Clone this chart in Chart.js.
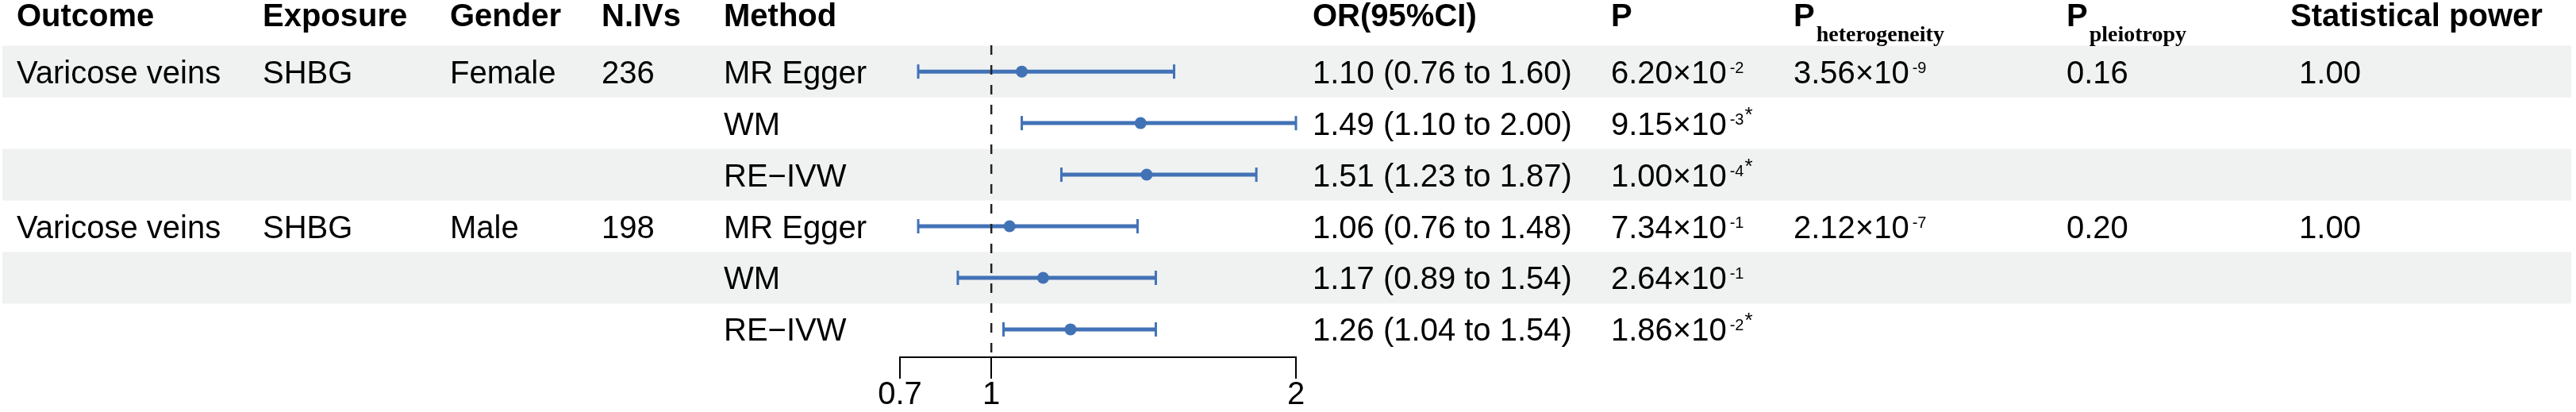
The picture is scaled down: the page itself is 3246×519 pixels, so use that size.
<!DOCTYPE html>
<html>
<head>
<meta charset="utf-8">
<script src="https://cdn.jsdelivr.net/npm/chart.js@4.4.1/dist/chart.umd.min.js"></script>
<style>
  html, body { margin: 0; padding: 0; background: #fff; }
</style>
</head>
<body>
<canvas id="chart" width="3246" height="519"></canvas>
<script>
// table columns
const outcomes = ['Varicose veins', '', '', 'Varicose veins', '', ''];
const exposures = ['SHBG', '', '', 'SHBG', '', ''];
const genders = ['Female', '', '', 'Male', '', ''];
const nIVs = ['236', '', '', '198', '', ''];
const methods = ['MR Egger', 'WM', 'RE\u2212IVW', 'MR Egger', 'WM', 'RE\u2212IVW'];

// odds ratios and 95% CI
const orVals = [1.10, 1.49, 1.51, 1.06, 1.17, 1.26];
const ciLow = [0.76, 1.10, 1.23, 0.76, 0.89, 1.04];
const ciHigh = [1.60, 2.00, 1.87, 1.48, 1.54, 1.54];

// P values as mantissa x 10^exp
const pMant = ['6.20', '9.15', '1.00', '7.34', '2.64', '1.86'];
const pExp = ['-2', '-3', '-4', '-1', '-1', '-2'];
const pStar = [false, true, true, false, false, true];
const hetMant = ['3.56', '', '', '2.12', '', ''];
const hetExp = ['-9', '', '', '-7', '', ''];
const pleio = ['0.16', '', '', '0.20', '', ''];
const power = ['1.00', '', '', '1.00', '', ''];

const xTicks = [0.7, 1, 2];

const BLUE = '#4272b6';
const BAND = '#eff2f1';
const SANS = '"Liberation Sans", Arial, Helvetica, sans-serif';
const SERIF = '"Liberation Serif", "Times New Roman", serif';

const colX = { outcome: 21, exposure: 331, gender: 567, niv: 758, method: 912,
               or: 1654, p: 2030, het: 2260, pleio: 2604, power: 2886 };

const rows = orVals.map((_, i) => i + 1);

// one line dataset per CI, caps drawn as rotated line points
const ciSets = rows.map((r, i) => ({
    type: 'scatter',
    showLine: true,
    data: [{ x: ciLow[i], y: r }, { x: ciHigh[i], y: r }],
    borderColor: BLUE,
    borderWidth: 5,
    pointStyle: 'line',
    rotation: 90,
    pointRadius: 9,
    pointBorderWidth: 3,
    pointBorderColor: BLUE,
    clip: false
}));

function drawSci(ctx, x, base, mant, exp, star) {
    ctx.font = '40px ' + SANS;
    const main = mant + '\u00d710';
    ctx.fillText(main, x, base);
    let cx = x + ctx.measureText(main).width + 4;
    ctx.font = '20px ' + SANS;
    ctx.fillText(exp, cx, base - 13);
    cx += ctx.measureText(exp).width + 1;
    if (star) {
        ctx.font = '26px ' + SANS;
        ctx.fillText('*', cx, base - 17);
    }
}

const tablePlugin = {
    id: 'table',
    beforeDatasetsDraw(chart) {
        const { ctx } = chart;
        const y = chart.scales.y;
        ctx.save();
        ctx.fillStyle = BAND;
        [1, 3, 5].forEach(r => {
            const top = y.getPixelForValue(r - 0.5);
            const bot = y.getPixelForValue(r + 0.5);
            ctx.fillRect(3, top, 3237, bot - top);
        });
        ctx.restore();
    },
    afterDatasetsDraw(chart) {
        const { ctx, chartArea } = chart;
        const x1 = chart.scales.x.getPixelForValue(1);
        ctx.save();
        ctx.strokeStyle = '#222';
        ctx.lineWidth = 2.5;
        ctx.setLineDash([12, 13]);
        ctx.beginPath();
        ctx.moveTo(x1, chartArea.top);
        ctx.lineTo(x1, chartArea.bottom);
        ctx.stroke();
        ctx.restore();
    },
    afterDraw(chart) {
        const { ctx } = chart;
        const y = chart.scales.y;
        ctx.save();
        ctx.fillStyle = '#000';
        ctx.textBaseline = 'alphabetic';
        ctx.textAlign = 'left';

        // header
        const hb = 33;
        ctx.font = 'bold 40px ' + SANS;
        ctx.fillText('Outcome', colX.outcome, hb);
        ctx.fillText('Exposure', colX.exposure, hb);
        ctx.fillText('Gender', colX.gender, hb);
        ctx.fillText('N.IVs', colX.niv, hb);
        ctx.fillText('Method', colX.method, hb);
        ctx.fillText('OR(95%CI)', colX.or, hb);
        ctx.fillText('P', colX.p, hb);
        ctx.fillText('Statistical power', colX.power, hb);
        [['het', 'heterogeneity'], ['pleio', 'pleiotropy']].forEach(([k, sub]) => {
            ctx.font = 'bold 40px ' + SANS;
            ctx.fillText('P', colX[k], hb);
            const w = ctx.measureText('P').width;
            ctx.font = 'bold 28px ' + SERIF;
            ctx.fillText(sub, colX[k] + w + 2, 52);
        });

        // body rows
        rows.forEach((r, i) => {
            const base = y.getPixelForValue(r) + 14.5;
            ctx.font = '40px ' + SANS;
            ctx.fillText(outcomes[i], colX.outcome, base);
            ctx.fillText(exposures[i], colX.exposure, base);
            ctx.fillText(genders[i], colX.gender, base);
            ctx.fillText(nIVs[i], colX.niv, base);
            ctx.fillText(methods[i], colX.method, base);
            const orText = `${orVals[i].toFixed(2)} (${ciLow[i].toFixed(2)} to ${ciHigh[i].toFixed(2)})`;
            ctx.fillText(orText, colX.or, base);
            if (pleio[i]) ctx.fillText(pleio[i], colX.pleio, base);
            if (power[i]) ctx.fillText(' ' + power[i], colX.power, base);
            drawSci(ctx, colX.p, base, pMant[i], pExp[i], pStar[i]);
            if (hetMant[i]) drawSci(ctx, colX.het, base, hetMant[i], hetExp[i], false);
        });
        ctx.restore();
    }
};

const ctx = document.getElementById('chart').getContext('2d');
new Chart(ctx, {
    type: 'scatter',
    data: {
        datasets: [{
            data: rows.map((r, i) => ({ x: orVals[i], y: r })),
            pointRadius: 7.5,
            pointBackgroundColor: BLUE,
            pointBorderWidth: 0,
            showLine: false,
            clip: false
        }, ...ciSets]
    },
    options: {
        responsive: false,
        devicePixelRatio: 1,
        animation: false,
        events: [],
        layout: { padding: { left: 1134, right: 1613, top: 57, bottom: 0 } },
        plugins: { legend: { display: false }, tooltip: { enabled: false } },
        scales: {
            x: {
                type: 'linear',
                min: 0.7,
                max: 2,
                afterBuildTicks: s => { s.ticks = xTicks.map(v => ({ value: v })); },
                ticks: {
                    color: '#000',
                    font: { family: SANS, size: 40, lineHeight: 1 },
                    padding: 1,
                    autoSkip: false,
                    maxRotation: 0,
                    callback: v => String(v)
                },
                grid: { drawOnChartArea: false, drawTicks: true, tickLength: 27, color: '#000', lineWidth: 2 },
                border: { display: true, color: '#000', width: 2 }
            },
            y: {
                type: 'linear',
                min: 0.49,
                max: 6.54,
                reverse: true,
                display: false
            }
        }
    },
    plugins: [tablePlugin]
});
</script>
</body>
</html>
